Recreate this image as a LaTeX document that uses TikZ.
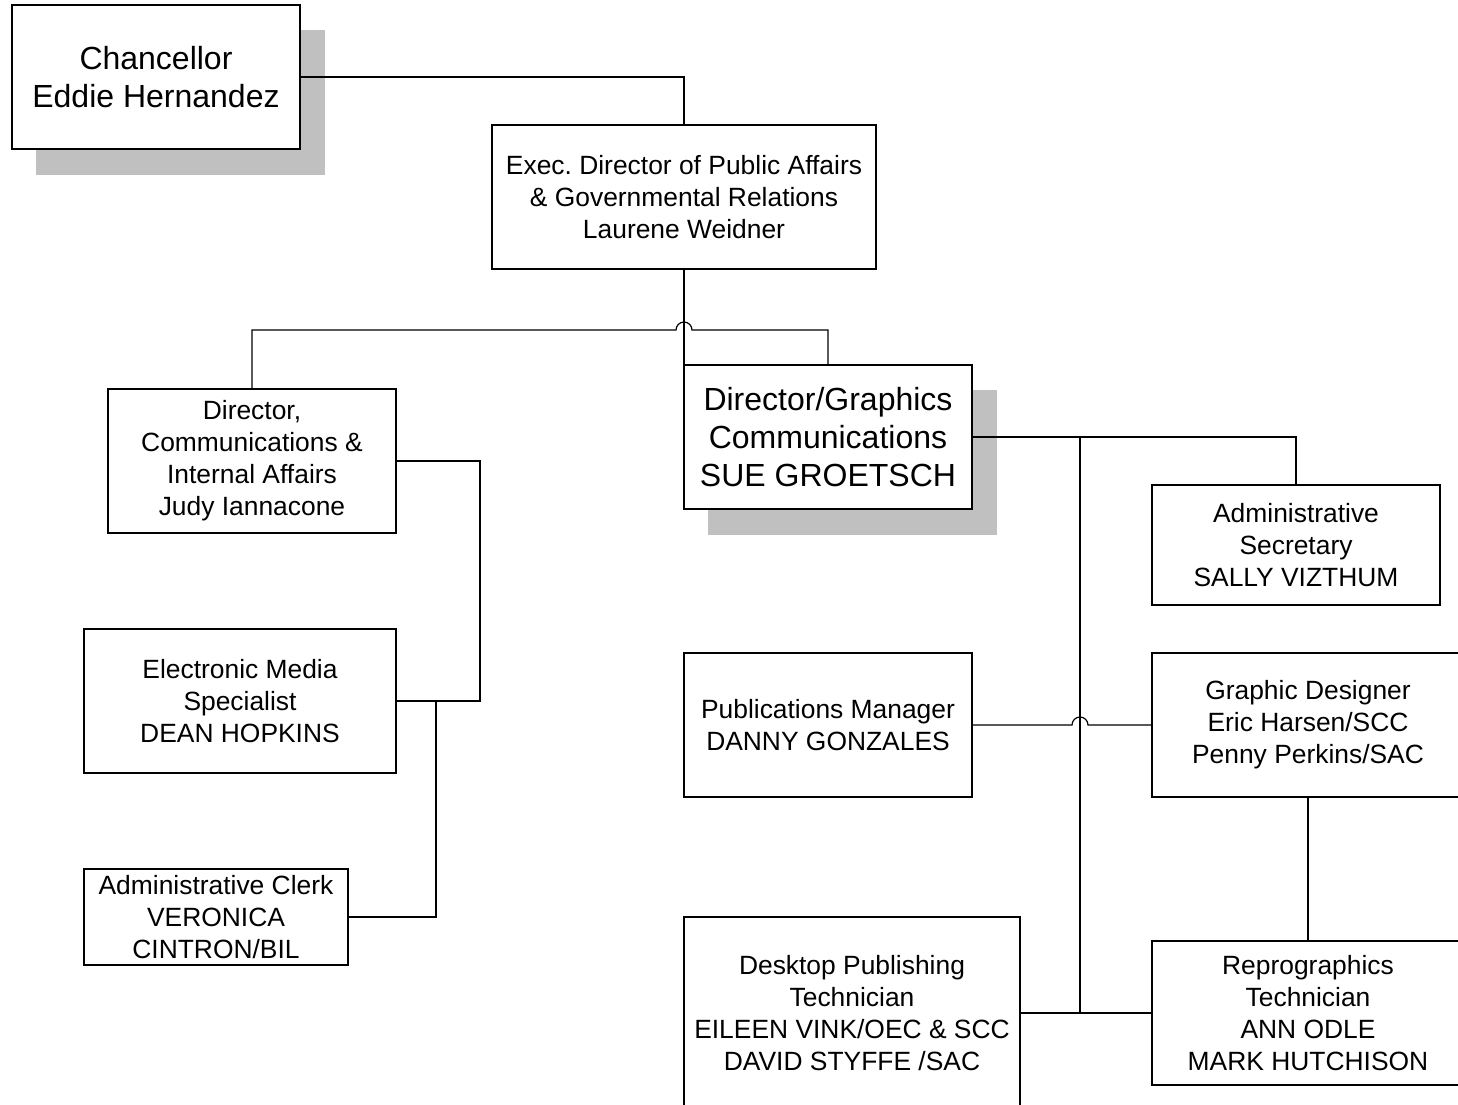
\documentclass[tikz,border=0pt]{standalone}
\usepackage{fontspec}
\setmainfont{Liberation Sans}
\frenchspacing
\definecolor{shadowgrey}{HTML}{C0C0C0}
\begin{document}
\begin{tikzpicture}[x=1pt,y=-1pt,
  box/.style={draw=black,line width=1.8pt,fill=white,align=center,inner sep=0pt,
    font=\fontsize{26.4}{32}\selectfont},
  bigbox/.style={box,font=\fontsize{32}{38}\selectfont},
  link/.style={draw=black,line width=1.2pt},
  shadow/.style={fill=shadowgrey,draw=none}]
\useasboundingbox (0,0) rectangle (1458,1104);
\clip (0,0) rectangle (1458,1104);
% shadows
\fill[shadow] (36,30) rectangle (325,175);
\fill[shadow] (708,390) rectangle (997,535);
% boxes
\node[bigbox,minimum width=288pt,minimum height=144pt] (chan) at (156,77) {Chancellor\\Eddie Hernandez};
\node[box,minimum width=384pt,minimum height=144pt] (exec) at (684,197) {Exec.\ Director of Public Affairs\\\& Governmental Relations\\Laurene Weidner};
\node[box,minimum width=288pt,minimum height=144pt] (dcomm) at (252,461) {Director,\\Communications \&\\Internal Affairs\\Judy Iannacone};
\node[bigbox,minimum width=288pt,minimum height=144pt] (dgraph) at (828,437) {Director/Graphics\\Communications\\SUE GROETSCH};
\node[box,minimum width=288pt,minimum height=120pt] (asec) at (1296,545) {Administrative\\Secretary\\SALLY VIZTHUM};
\node[box,minimum width=312pt,minimum height=144pt] (emed) at (240,701) {Electronic Media\\Specialist\\DEAN HOPKINS};
\node[box,minimum width=288pt,minimum height=144pt] (pubm) at (828,725) {Publications Manager\\DANNY GONZALES};
\node[box,minimum width=312pt,minimum height=144pt] (gdes) at (1308,725) {Graphic Designer\\Eric Harsen/SCC\\Penny Perkins/SAC};
\node[box,minimum width=264pt,minimum height=96pt] (aclerk) at (216,917) {Administrative Clerk\\VERONICA\\CINTRON/BIL};
\node[box,minimum width=336pt,minimum height=192pt] (dtp) at (852,1013) {Desktop Publishing\\Technician\\EILEEN VINK/OEC \& SCC\\DAVID STYFFE /SAC};
\node[box,minimum width=312pt,minimum height=144pt] (repro) at (1308,1013) {Reprographics\\Technician\\ANN ODLE\\MARK HUTCHISON};
% connectors
\coordinate (jg) at (1080,437);
\coordinate (jr) at (1080,1013);
\draw[link] (chan.east) -- (684,77) -- (exec.north);
\draw[link] (exec.south) -- (dgraph.north west -| exec.south);
\draw[link] (dcomm.north) -- (252,330) -- (676,330) arc[start angle=180,end angle=0,radius=8pt] -- (828,330) -- (dgraph.north);
\draw[link] (dcomm.east) -- (480,461) -- (480,701) -- (emed.east);
\draw[link] (436,701) -- (436,917) -- (aclerk.east);
\draw[link] (dgraph.east) -- (1296,437) -- (asec.north);
\draw[link] (jg) -- (jr);
\draw[link] (pubm.east) -- (1072,725) arc[start angle=180,end angle=0,radius=8pt] -- (gdes.west);
\draw[link] (dtp.east |- jr) -- (repro.west);
\draw[link] (gdes.south) -- (repro.north);
\end{tikzpicture}
\end{document}
